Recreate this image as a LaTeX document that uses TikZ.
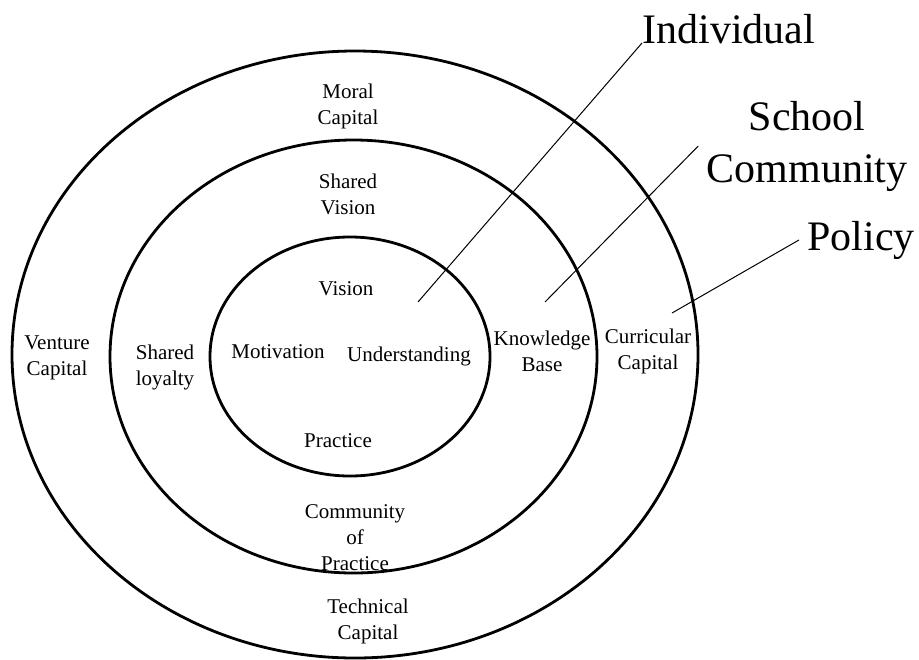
\documentclass[tikz,border=0pt]{standalone}
\usepackage{fontspec}
\setmainfont{Liberation Serif}
\usepackage{tikz}

\begin{document}
\begin{tikzpicture}[x=0.5pt, y=-0.5pt,
  ring/.style={line width=1.4pt},
  leader/.style={line width=0.5pt},
  capital/.style={align=center, inner sep=0pt, font=\fontsize{10.5}{13}\selectfont},
  level/.style={align=center, inner sep=4pt, font=\fontsize{21}{26}\selectfont}]
  \useasboundingbox (0,0) rectangle (919,659);

  % Rings
  \draw[ring] (355,354.5) ellipse [x radius=343, y radius=303.5];
  \draw[ring] (353.5,356.5) ellipse [x radius=243.5, y radius=216.5];
  \draw[ring] (350,356.5) ellipse [x radius=140, y radius=119.5];

  % Inner ring
  \node[capital] (vision) at (346,289) {Vision};
  \node[capital] (motivation) at (278,352) {Motivation};
  \node[capital] (understanding) at (409,356) {Understanding};
  \node[capital] (practice) at (338,441) {Practice};

  % Middle ring
  \node[capital] (sharedvision) at (348,194) {Shared\\Vision};
  \node[capital] (loyalty) at (165,367) {Shared\\loyalty};
  \node[capital] (knowledge) at (542,351) {Knowledge\\Base};
  \node[capital] (community) at (355,538) {Community\\of\\Practice};

  % Outer ring
  \node[capital] (moral) at (348,106) {Moral\\Capital};
  \node[capital] (venture) at (57,358) {Venture\\Capital};
  \node[capital] (curricular) at (648,351) {Curricular\\Capital};
  \node[capital] (technical) at (368,621) {Technical\\Capital};

  % Levels
  \node[level, anchor=base west, inner sep=0pt] (individual) at (642,43) {Individual};
  \node[level] (school) at (807,146) {School\\Community};
  \node[level] (policy) at (861,240) {Policy};

  \coordinate (pindividual) at (418,302);
  \coordinate (pschool) at (545,302);
  \coordinate (ppolicy) at (672,313);
  \draw[leader] (pindividual) -- (individual.base west);
  \draw[leader] (pschool) -- (school.west);
  \draw[leader] (ppolicy) -- (policy.west);
\end{tikzpicture}
\end{document}
